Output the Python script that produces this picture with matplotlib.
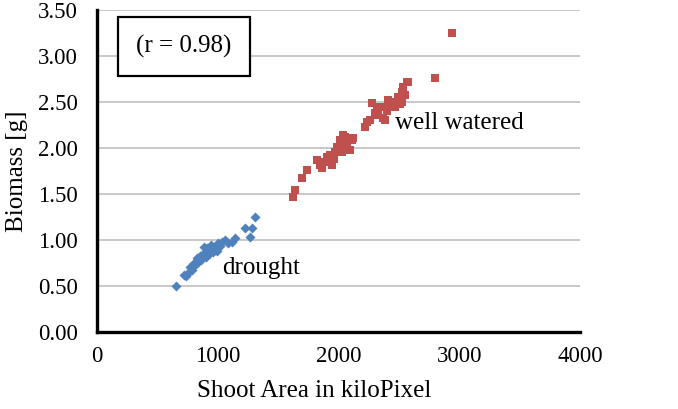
import numpy as np
import matplotlib.pyplot as plt
from matplotlib.ticker import FormatStrFormatter

plt.rcParams['font.family'] = ['Liberation Serif', 'DejaVu Serif']

# drought plants
dr_x = [654, 720, 737, 754, 770, 787, 800, 812, 825, 836, 850, 860, 870, 878, 885,
        894, 900, 911, 925, 936, 945, 961, 977, 990, 1002, 1020, 1035, 1060, 1085, 1118,
        1143, 1226, 1267, 1284, 1308]
dr_y = [0.50, 0.62, 0.61, 0.64, 0.71, 0.67, 0.75, 0.73, 0.80, 0.76, 0.83, 0.78, 0.80, 0.84, 0.92,
        0.87, 0.82, 0.91, 0.85, 0.89, 0.95, 0.87, 0.92, 0.88, 0.97, 0.93, 0.98, 1.00, 0.97, 0.98,
        1.02, 1.13, 1.03, 1.13, 1.25]

# well watered plants
ww_x = [1623, 1640, 1698, 1739, 1822, 1847, 1863, 1880, 1905, 1930, 1946, 1960, 1971, 1988, 2012,
        2029, 2029, 2037, 2054, 2070, 2095, 2112, 2120, 2219, 2236, 2260, 2277, 2300, 2319, 2327,
        2345, 2368, 2368, 2385, 2400, 2410, 2430, 2451, 2470, 2493, 2510, 2526, 2526, 2534, 2550,
        2567, 2576, 2799, 2940]
ww_y = [1.47, 1.54, 1.67, 1.76, 1.87, 1.82, 1.78, 1.85, 1.90, 1.92, 1.82, 1.88, 1.96, 2.01, 2.09,
        2.03, 1.96, 2.14, 2.12, 2.03, 1.98, 2.09, 2.11, 2.23, 2.28, 2.30, 2.49, 2.38, 2.41, 2.36,
        2.45, 2.33, 2.45, 2.30, 2.40, 2.52, 2.48, 2.50, 2.45, 2.55, 2.48, 2.61, 2.50, 2.66, 2.58,
        2.72, 2.72, 2.76, 3.25]

fig = plt.figure(figsize=(6.78, 4.09), dpi=100)
ax = fig.add_axes([97/678, 1 - 332/409, (580-97)/678, (332-10)/409])

ax.scatter(dr_x, dr_y, marker='D', s=26, color='#4F81BD', linewidths=0, zorder=3)
ax.scatter(ww_x, ww_y, marker='s', s=38, color='#C0504D', linewidths=0, zorder=3)

ax.set_xlim(0, 4000)
ax.set_ylim(0, 3.5)
ax.set_xticks(np.arange(0, 4001, 1000))
ax.set_yticks(np.arange(0, 3.51, 0.5))
ax.yaxis.set_major_formatter(FormatStrFormatter('%.2f'))
ax.tick_params(length=0, labelsize=16.5)
ax.tick_params(axis='y', pad=14)
ax.tick_params(axis='x', pad=10)
ax.grid(axis='y', color='#bfbfbf', linewidth=1.2, zorder=0)
ax.set_axisbelow(True)

for s in ['top', 'right']:
    ax.spines[s].set_visible(False)
for s in ['left', 'bottom']:
    ax.spines[s].set_linewidth(2.4)
    ax.spines[s].set_color('black')

ax.set_xlabel('Shoot Area in kiloPixel', fontsize=18)
ax.xaxis.set_label_coords(0.45, -0.15)
ax.set_ylabel('Biomass [g]', fontsize=18)
ax.yaxis.set_label_coords(-0.143, 0.5)

ax.text(1035, 0.70, 'drought', fontsize=18, va='center', ha='left')
ax.text(2470, 2.27, 'well watered', fontsize=18, va='center', ha='left')
ax.text(0.180, 0.886, '(r = 0.98)', fontsize=18, transform=ax.transAxes,
        ha='center', va='center',
        bbox=dict(boxstyle='square,pad=0.72', facecolor='white', edgecolor='black', linewidth=1.6))

fig.savefig('out.png', dpi=100)
